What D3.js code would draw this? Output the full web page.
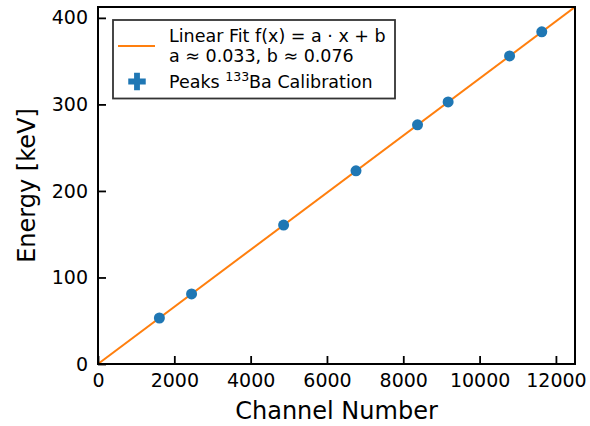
<!DOCTYPE html>
<html><head><meta charset="utf-8">
<script src="https://cdn.jsdelivr.net/npm/d3@7"></script>
<style>body{margin:0;background:#fff}svg{display:block;font-family:"DejaVu Sans",sans-serif}</style>
</head><body><svg id="c" width="590" height="426"></svg>
<script>
const peakEnergies = [53.16, 80.99, 160.61, 223.24, 276.40, 302.85, 356.01, 383.85];
const peakChannels = [1609, 2452, 4864, 6761, 8373, 9175, 10786, 11629];
const fitA = 0.033, fitB = 0.076;
const xTicks = [0, 2000, 4000, 6000, 8000, 10000, 12000];
const yTicks = [0, 100, 200, 300, 400];
const xDomain = [0, 12500];

const svg = d3.select("#c");
const m = {l: 98, r: 15, t: 7, b: 62};
const W = 590 - m.l - m.r, H = 426 - m.t - m.b;
const x = d3.scaleLinear().domain(xDomain).range([m.l, m.l + W]);
const y = d3.scaleLinear().domain([0, fitA * xDomain[1] + fitB]).range([m.t + H, m.t]);
const g = svg.append("g");
svg.append("clipPath").attr("id","cp").append("rect").attr("x",m.l).attr("y",m.t).attr("width",W).attr("height",H);

// fit line
const fitPts = xDomain.map(c => [c, fitA * c + fitB]);
g.append("path").attr("clip-path","url(#cp)").attr("d", d3.line().x(d=>x(d[0])).y(d=>y(d[1]))(fitPts))
 .attr("stroke","#ff7f0e").attr("stroke-width",2).attr("fill","none");
// points
g.selectAll("circle.p").data(peakChannels).join("circle")
 .attr("cx", (d)=>x(d)).attr("cy", (d,i)=>y(peakEnergies[i])).attr("r",5.5).attr("fill","#1f77b4");

// axes
const xa = svg.append("g").attr("transform",`translate(0,${m.t+H})`)
 .call(d3.axisBottom(x).tickValues(xTicks).tickSizeInner(-8).tickSizeOuter(0).tickPadding(10).tickFormat(d3.format("d")));
const ya = svg.append("g").attr("transform",`translate(${m.l},0)`)
 .call(d3.axisLeft(y).tickValues(yTicks).tickSizeInner(-8).tickSizeOuter(0).tickPadding(10).tickFormat(d3.format("d")));
[xa, ya].forEach(a => {
  a.select(".domain").remove();
  a.selectAll(".tick line").attr("stroke","#000").attr("stroke-width",1.8);
  a.selectAll(".tick text").attr("fill","#000").style("font-size","19px").style("font-family","DejaVu Sans");
});
// frame
svg.append("rect").attr("x",m.l).attr("y",m.t).attr("width",W).attr("height",H)
 .attr("fill","none").attr("stroke","#000").attr("stroke-width",2);

// axis labels
svg.append("text").attr("x", m.l + W/2).attr("y", 419).attr("text-anchor","middle")
 .style("font-size","24px").text("Channel Number");
svg.append("text").attr("transform",`translate(35,${m.t+H/2}) rotate(-90)`).attr("text-anchor","middle")
 .style("font-size","24px").text("Energy [keV]");

// legend
const lg = svg.append("g");
lg.append("rect").attr("x",113).attr("y",20).attr("width",282).attr("height",78.5)
 .attr("fill","#fff").attr("stroke","#333").attr("stroke-width",1.8);
lg.append("line").attr("x1",118).attr("x2",155).attr("y1",46).attr("y2",46).attr("stroke","#ff7f0e").attr("stroke-width",2);
lg.append("text").attr("x",169).attr("y",42).style("font-size","17.5px").text("Linear Fit f(x) = a · x + b");
lg.append("text").attr("x",169).attr("y",61.5).style("font-size","17.5px").text(`a ≈ ${fitA.toFixed(3)}, b ≈ ${fitB.toFixed(3)}`);
lg.append("path").attr("d", d3.symbol().type(d3.symbolCross).size(170)()).attr("transform","translate(137,81.5)").attr("fill","#1f77b4");
const t3 = lg.append("text").attr("x",169).attr("y",88).style("font-size","17.5px");
t3.append("tspan").text("Peaks ");
t3.append("tspan").attr("dy",-7).style("font-size","12.5px").text("133");
t3.append("tspan").attr("dy",7).text("Ba Calibration");
</script></body></html>
